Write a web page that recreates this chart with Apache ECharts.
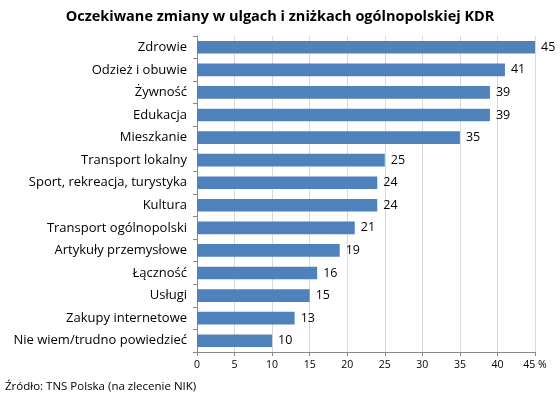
<!DOCTYPE html>
<html><head><meta charset="utf-8">
<script src="https://cdn.jsdelivr.net/npm/echarts@6/dist/echarts.min.js"></script>
<style>html,body{margin:0;padding:0;background:#fff}#c{width:560px;height:402px}</style>
</head><body><div id="c"></div>
<script>
const categories = ["Zdrowie","Odzież i obuwie","Żywność","Edukacja","Mieszkanie","Transport lokalny","Sport, rekreacja, turystyka","Kultura","Transport ogólnopolski","Artykuły przemysłowe","Łączność","Usługi","Zakupy internetowe","Nie wiem/trudno powiedzieć"];
const values = [45,41,39,39,35,25,24,24,21,19,16,15,13,10];
const titleText = "Oczekiwane zmiany w ulgach i zniżkach ogólnopolskiej KDR";
const sourceText = "Źródło: TNS Polska (na zlecenie NIK)";
const font = "Open Sans";
const chart = echarts.init(document.getElementById('c'));
chart.setOption({
  animation:false,
  title:{text:titleText,left:'center',top:4,textStyle:{fontFamily:font,fontSize:14.5,fontWeight:'bold',color:'#000'}},
  graphic:[{type:'text',left:5,top:381,style:{text:sourceText,fontFamily:font,fontSize:11.5,fill:'#000'}}],
  grid:{left:197,right:25,top:36,bottom:50},
  xAxis:{type:'value',min:0,max:45,interval:5,
    axisLine:{show:true,lineStyle:{color:'#898989'}},
    axisTick:{show:true,length:4,lineStyle:{color:'#898989'}},
    splitLine:{lineStyle:{color:'#d9d9d9'}},
    axisLabel:{fontFamily:font,fontSize:10.5,color:'#000',margin:8,formatter:v=>v===45?'45 %':String(v)}},
  yAxis:{type:'category',data:categories,inverse:true,
    axisLine:{show:true,lineStyle:{color:'#898989'}},
    axisTick:{show:true,length:4,lineStyle:{color:'#898989'}},
    axisLabel:{fontFamily:font,fontSize:13,color:'#000',margin:10}},
  series:[{type:'bar',data:values,barCategoryGap:'44%',itemStyle:{color:'#4F81BD'},
    label:{show:true,position:'right',distance:6,fontFamily:font,fontSize:12.5,color:'#000'}}]
});
</script></body></html>
